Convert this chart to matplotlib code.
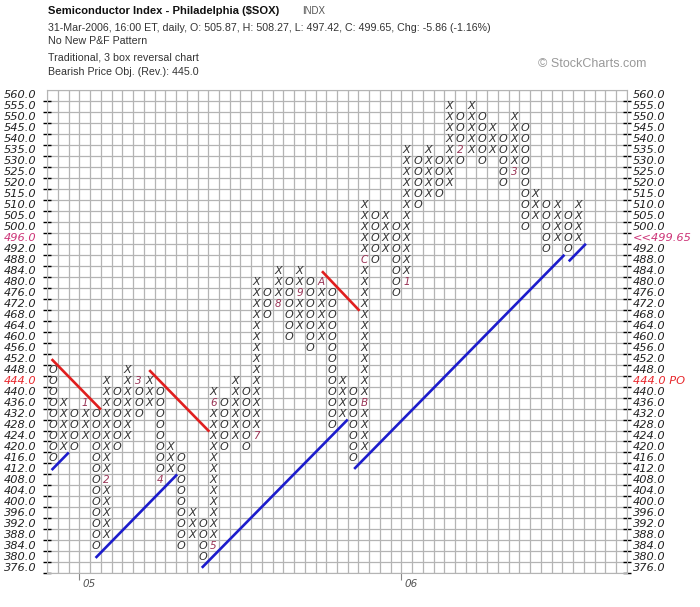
import matplotlib
matplotlib.use('Agg')
import matplotlib.pyplot as plt
import matplotlib.transforms as mtrans
import numpy as np

# box scale: 4 points below 500, 5 points from 500 up
boxes = list(range(376, 500, 4)) + list(range(500, 561, 5))

# point & figure columns: type, low box, high box
col_type = ['O', 'X', 'O', 'X', 'O', 'X', 'O', 'X', 'O', 'X',
            'O', 'X', 'O', 'X', 'O', 'X', 'O', 'X', 'O', 'X',
            'O', 'X', 'O', 'X', 'O', 'X', 'O', 'X', 'O', 'X',
            'O', 'X', 'O', 'X', 'O', 'X', 'O', 'X', 'O', 'X',
            'O', 'X', 'O', 'X', 'O', 'X', 'O', 'X', 'O', 'X']
col_low = [416, 420, 420, 424, 384, 388, 420, 424, 432, 436,
           408, 412, 384, 388, 380, 384, 420, 424, 420, 424,
           468, 472, 460, 464, 456, 460, 428, 432, 416, 420,
           488, 492, 476, 480, 510, 515, 515, 520, 530, 535,
           530, 535, 520, 525, 500, 505, 492, 496, 492, 496]
col_high = [448, 436, 432, 436, 432, 444, 440, 448, 444, 444,
            440, 420, 416, 396, 392, 440, 436, 444, 440, 480,
            476, 484, 480, 484, 480, 480, 476, 444, 440, 510,
            505, 505, 500, 535, 530, 535, 530, 555, 550, 555,
            550, 545, 540, 550, 545, 515, 510, 510, 505, 510]

# month markers (column, price, label)
month_col = [3, 5, 8, 10, 15, 15, 19, 21, 23, 25, 29, 29, 33, 38, 43]
month_price = [436, 408, 444, 408, 384, 436, 424, 472, 476, 480, 436, 488, 480, 535, 525]
month_lbl = ['1', '2', '3', '4', '5', '6', '7', '8', '9', 'A', 'B', 'C', '1', '2', '3']

# trend lines in (column, box) units
red_lines = [[(0.4, 19.5), (5.0, 14.9)],
             [(9.5, 18.5), (15.1, 12.9)],
             [(25.6, 27.5), (29.1, 23.9)]]
blue_lines = [[(0.4, 9.4), (2.0, 11.0)],
              [(4.5, 1.4), (12.1, 9.0)],
              [(14.4, 0.5), (28.0, 14.0)],
              [(28.6, 9.5), (48.2, 29.0)],
              [(48.6, 28.4), (50.2, 30.0)]]

year_col = [3, 33]
year_lbl = ['05', '06']

last_close = 499.65
price_obj = 444
n_cols = 54

W, H = 700, 607
fig = plt.figure(figsize=(W / 100, H / 100), dpi=100)
fig.patch.set_facecolor('white')

def fx(px):
    return px / W

def fy(py):
    return 1 - py / H

left, right, top, bottom = 47.3, 626.7, 90.0, 573.3
ax = fig.add_axes([fx(left), fy(bottom), fx(right - left), (bottom - top) / H])
n_rows = len(boxes)
ax.set_xlim(0, n_cols)
ax.set_ylim(0, n_rows)

grid_c = '#b4b4b4'
ax.vlines(np.arange(n_cols + 1), 0, n_rows, color=grid_c, lw=0.9, zorder=1)
ax.hlines(np.arange(n_rows + 1), 0, n_cols, color=grid_c, lw=0.9, zorder=1)
for s in ax.spines.values():
    s.set_color(grid_c)

ax.set_yticks(np.arange(n_rows))
ax.set_yticklabels([])
ax.tick_params(axis='y', left=True, right=True, direction='inout', length=6, width=1, color='black')
ax.set_xticks(year_col)
ax.set_xticklabels([])
ax.tick_params(axis='x', bottom=True, direction='out', length=5, width=0.8, color='#888888')

# X and O marks
mark_c = '#333333'
month_c = '#993355'
markers = {(c, p): l for c, p, l in zip(month_col, month_price, month_lbl)}
for i, (t, lo, hi) in enumerate(zip(col_type, col_low, col_high)):
    for k in range(boxes.index(lo), boxes.index(hi) + 1):
        key = (i, boxes[k])
        if key in markers:
            ax.text(i + 0.5, k + 0.5, markers[key], ha='center', va='center',
                    fontsize=7.5, style='italic', color=month_c, zorder=3)
        else:
            ax.text(i + 0.5, k + 0.5, t, ha='center', va='center',
                    fontsize=8, style='italic', color=mark_c, zorder=3)

for seg in red_lines:
    xs, ys = zip(*seg)
    ax.plot(xs, ys, color='#e01e1e', lw=1.9, solid_capstyle='butt', zorder=4)
for seg in blue_lines:
    xs, ys = zip(*seg)
    ax.plot(xs, ys, color='#1c1ccc', lw=1.9, solid_capstyle='butt', zorder=4)

# price labels
tl = mtrans.blended_transform_factory(fig.transFigure, ax.transData)
close_row = max(k for k, b in enumerate(boxes) if b <= last_close)
for k, b in enumerate(boxes):
    lab = '%.1f' % b
    c_left, c_right, r_lab = '#222222', '#222222', lab
    if b == price_obj:
        c_left = c_right = '#e8282d'
        r_lab = lab + ' PO'
    if k == close_row:
        c_left = '#cc3377'
        c_right = '#cc3377'
        r_lab = '<<%.2f' % last_close
    fig.text(fx(4), 0, lab, transform=tl, fontsize=8.2, style='italic', color=c_left,
             ha='left', va='center').set_y(k + 0.5)
    fig.text(fx(633), 0, r_lab, transform=tl, fontsize=8.2, style='italic', color=c_right,
             ha='left', va='center').set_y(k + 0.5)

tb = mtrans.blended_transform_factory(ax.transData, fig.transFigure)
for c, l in zip(year_col, year_lbl):
    fig.text(c + 0.3, fy(584), l, transform=tb, fontsize=7.5, style='italic', color='#555555',
             ha='left', va='center')

# header
hdr = 'Liberation Sans'
fig.text(fx(48), fy(11), 'Semiconductor Index - Philadelphia ($SOX)', fontsize=8.1,
         fontweight='bold', family=hdr, color='#111111', va='center')
fig.text(fx(302), fy(11), 'INDX', fontsize=7, family=hdr, color='#555555', va='center')
fig.text(fx(48), fy(28), '31-Mar-2006, 16:00 ET, daily, O: 505.87, H: 508.27, L: 497.42, C: 499.65, Chg: -5.86 (-1.16%)',
         fontsize=7.7, family=hdr, color='#333333', va='center')
fig.text(fx(48), fy(41), 'No New P&F Pattern', fontsize=7.7, family=hdr, color='#333333', va='center')
fig.text(fx(48), fy(57), 'Traditional, 3 box reversal chart', fontsize=7.7, family=hdr, color='#333333', va='center')
fig.text(fx(48), fy(72), 'Bearish Price Obj. (Rev.): 445.0', fontsize=7.7, family=hdr, color='#333333', va='center')
fig.text(fx(538), fy(64), '\u00a9 StockCharts.com', fontsize=9, family=hdr, color='#999999', va='center')

fig.savefig('out.png', dpi=100)
